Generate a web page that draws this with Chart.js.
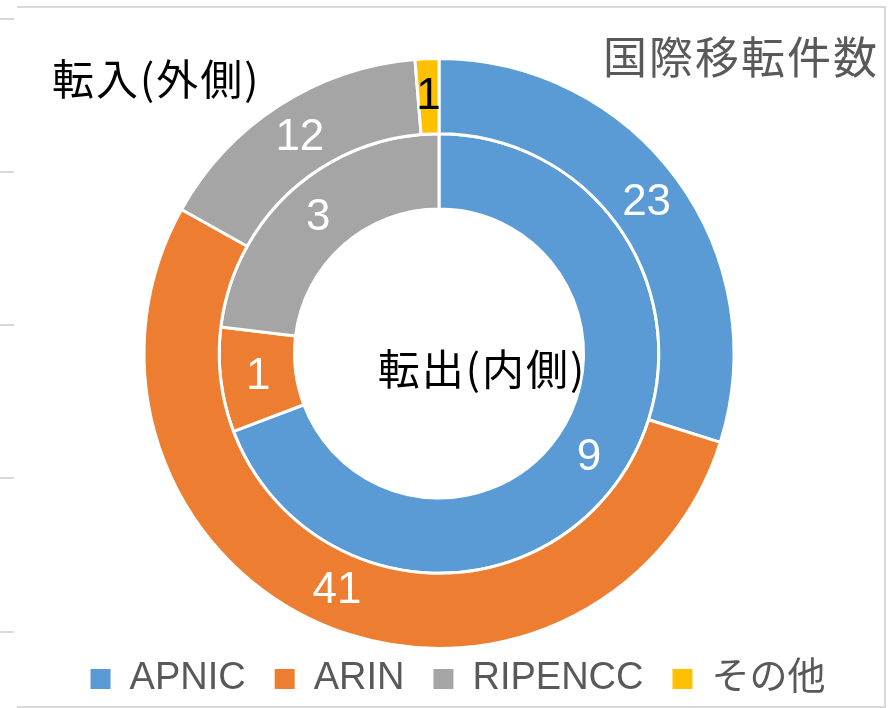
<!DOCTYPE html>
<html>
<head>
<meta charset="utf-8">
<script src="https://cdn.jsdelivr.net/npm/chart.js@4"></script>
<style>
  html, body { margin: 0; padding: 0; background: #fff; }
  #wrap { width: 894px; height: 708px; position: relative; }
</style>
</head>
<body>
<div id="wrap"><canvas id="transferChart" width="894" height="708"></canvas></div>
<script>
const categories = ['APNIC', 'ARIN', 'RIPENCC', 'その他'];
const transferIn = [23, 41, 12, 1];   // 転入 (outer ring)
const transferOut = [9, 1, 3, 0];     // 転出 (inner ring)
const sliceColors = ['#5b9bd5', '#ed7d31', '#a5a5a5', '#ffc000'];
const labelColors = ['#ffffff', '#ffffff', '#ffffff', '#000000'];

const jpFont = '"Noto Sans CJK JP", "Liberation Sans", sans-serif';
const numFont = '"Liberation Sans", "Noto Sans CJK JP", sans-serif';

// frame lines + stubs of the neighbouring sheet
const framePlugin = {
  id: 'frame',
  beforeDraw(chart) {
    const c = chart.ctx;
    c.save();
    c.strokeStyle = '#d9d9d9';
    c.lineWidth = 2;
    c.beginPath();
    c.moveTo(17, 7); c.lineTo(886, 7);
    c.moveTo(885, 7); c.lineTo(885, 707);
    c.moveTo(17, 707); c.lineTo(886, 707);
    [19, 172, 325, 478, 632].forEach(y => { c.moveTo(0, y); c.lineTo(14, y); });
    c.stroke();
    c.restore();
  },
  // legend in the original sits a little right of the pie centre
  afterLayout(chart) {
    chart.legend.left += 19;
    chart.legend.right += 19;
  }
};

// value labels in the middle of every slice
const sliceLabels = {
  id: 'sliceLabels',
  afterDatasetsDraw(chart) {
    const c = chart.ctx;
    c.save();
    c.font = '44px ' + numFont;
    c.textAlign = 'center';
    c.textBaseline = 'middle';
    chart.data.datasets.forEach((ds, di) => {
      chart.getDatasetMeta(di).data.forEach((arc, i) => {
        if (!ds.data[i]) return;
        const p = arc.getCenterPoint();
        c.fillStyle = labelColors[i];
        c.fillText(ds.data[i], p.x, p.y + 1);
      });
    });
    c.restore();
  }
};

// title and ring captions
const captions = {
  id: 'captions',
  afterDraw(chart) {
    const c = chart.ctx;
    c.save();
    c.textBaseline = 'middle';
    c.letterSpacing = '2px';
    c.font = '44px ' + jpFont;
    c.fillStyle = '#595959';
    c.textAlign = 'right';
    c.fillText('国際移転件数', 879, 57);
    c.font = '42px ' + jpFont;
    c.fillStyle = '#000000';
    c.textAlign = 'left';
    c.fillText('転入(外側)', 52, 79);
    c.textAlign = 'center';
    c.fillText('転出(内側)', 482, 369);
    c.restore();
  }
};

const ctx = document.getElementById('transferChart').getContext('2d');

new Chart(ctx, {
  type: 'doughnut',
  data: {
    labels: categories,
    datasets: [
      { label: '転入', data: transferIn, backgroundColor: sliceColors, borderColor: '#ffffff', borderWidth: 3 },
      { label: '転出', data: transferOut, backgroundColor: sliceColors, borderColor: '#ffffff', borderWidth: 3 }
    ]
  },
  options: {
    responsive: false,
    animation: false,
    cutout: '49%',
    layout: { padding: { top: 57, left: 0, right: 16, bottom: 0 } },
    plugins: {
      tooltip: { enabled: false },
      title: { display: false },
      legend: {
        position: 'bottom',
        labels: {
          color: '#595959',
          boxWidth: 20,
          boxHeight: 20,
          padding: 10,
          font: { size: 38, family: numFont },
          generateLabels(chart) {
            const items = Chart.overrides.doughnut.plugins.legend.labels.generateLabels(chart);
            // no stroke on the swatches; a little extra room after each entry
            return items.map((it, i) => Object.assign(it, {
              lineWidth: 0,
              strokeStyle: it.fillStyle,
              text: i < items.length - 1 ? it.text + '\u2002' : it.text
            }));
          }
        }
      }
    }
  },
  plugins: [framePlugin, sliceLabels, captions]
});
</script>
</body>
</html>
